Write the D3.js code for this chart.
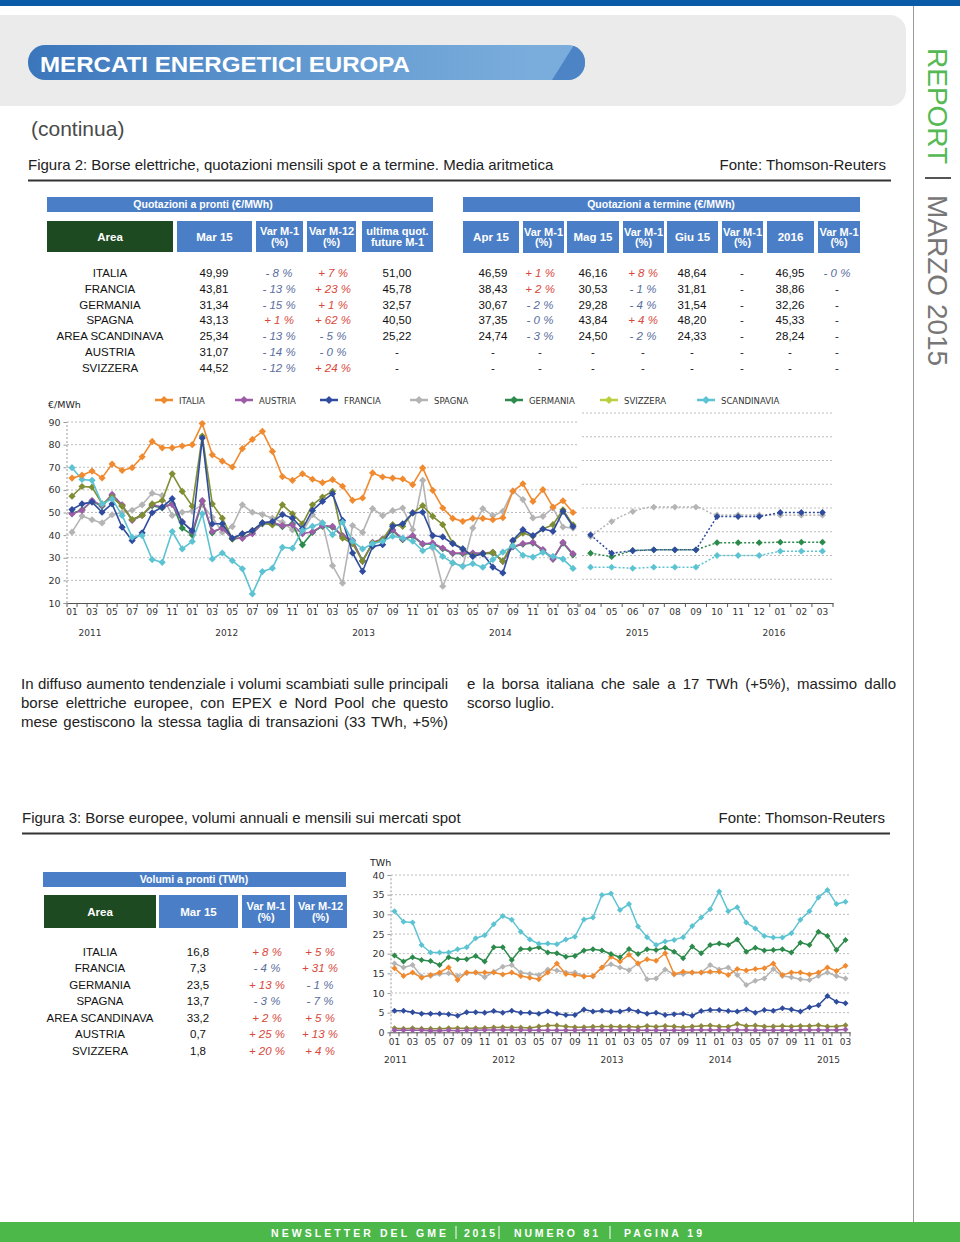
<!DOCTYPE html>
<html><head><meta charset="utf-8">
<script src="https://cdnjs.cloudflare.com/ajax/libs/d3/7.8.5/d3.min.js"></script>
<style>body{margin:0;background:#fff}svg{display:block}</style>
</head><body><svg id="page" width="960" height="1242"></svg>
<script>
// ---------------- DATA ----------------
const areas = ["ITALIA","FRANCIA","GERMANIA","SPAGNA","AREA SCANDINAVA","AUSTRIA","SVIZZERA"];
// Table: Quotazioni a pronti
const spotMar15 = ["49,99","43,81","31,34","43,13","25,34","31,07","44,52"];
const spotVarM1 = ["- 8 %","- 13 %","- 15 %","+ 1 %","- 13 %","- 14 %","- 12 %"];
const spotVarM12 = ["+ 7 %","+ 23 %","+ 1 %","+ 62 %","- 5 %","- 0 %","+ 24 %"];
const futureM1 = ["51,00","45,78","32,57","40,50","25,22","-","-"];
// Table: Quotazioni a termine
const fwdApr = ["46,59","38,43","30,67","37,35","24,74","-","-"];
const fwdAprVar = ["+ 1 %","+ 2 %","- 2 %","- 0 %","- 3 %","-","-"];
const fwdMag = ["46,16","30,53","29,28","43,84","24,50","-","-"];
const fwdMagVar = ["+ 8 %","- 1 %","- 4 %","+ 4 %","- 2 %","-","-"];
const fwdGiu = ["48,64","31,81","31,54","48,20","24,33","-","-"];
const fwdGiuVar = ["-","-","-","-","-","-","-"];
const fwd2016 = ["46,95","38,86","32,26","45,33","28,24","-","-"];
const fwd2016Var = ["- 0 %","-","-","-","-","-","-"];
// Table: Volumi a pronti
const volMar15 = ["16,8","7,3","23,5","13,7","33,2","0,7","1,8"];
const volVarM1 = ["+ 8 %","- 4 %","+ 13 %","- 3 %","+ 2 %","+ 25 %","+ 20 %"];
const volVarM12 = ["+ 5 %","+ 31 %","- 1 %","- 7 %","+ 5 %","+ 13 %","+ 4 %"];

// Chart 1 categories: monthly spot 2011-01..2015-03, forward 2015-04..2016-03
const fmtM = d3.timeFormat("%Y-%m");
const histMonths = d3.timeMonth.range(new Date(2011,0,1), new Date(2015,3,1)).map(fmtM);
const fwdMonths = d3.timeMonth.range(new Date(2015,3,1), new Date(2016,3,1)).map(fmtM);
const seriesNames = ["ITALIA","AUSTRIA","FRANCIA","SPAGNA","GERMANIA","SVIZZERA","SCANDINAVIA"];
const yearLabels1 = [2011,2012,2013,2014,2015,2016];
const yTicks1 = [10,20,30,40,50,60,70,80,90];
// €/MWh spot
const pItalia = [65.2,66.5,68.3,65.3,71.4,68.6,69.8,74.6,81.4,78.6,78.6,79.4,80.0,89.3,75.5,72.7,70.1,78.2,82.3,85.9,77.0,65.9,64.2,67.1,64.7,63.2,64.5,61.6,55.4,56.4,67.5,65.7,65.2,64.8,62.3,69.7,59.8,52.0,47.4,46.1,47.4,47.4,46.8,47.7,59.4,62.7,54.9,60.1,52.4,55.2,50.0];
const pAustria = [49.4,50.9,55.3,53.1,58.0,53.4,46.5,48.7,53.4,52.4,53.5,46.0,41.5,55.3,41.6,43.0,38.6,38.6,40.6,45.4,45.7,44.2,44.5,40.6,41.5,44.2,43.9,39.8,37.7,28.4,36.8,38.3,42.4,38.3,39.8,36.2,36.5,34.3,32.1,32.1,32.1,32.1,32.4,28.4,35.0,36.2,36.8,33.6,29.4,36.8,31.8];
const pFrancia = [51.3,53.8,54.6,50.1,53.8,43.5,37.6,41.0,49.9,52.4,56.1,45.7,42.0,82.9,45.0,45.0,38.6,40.6,42.0,45.4,46.0,49.1,47.5,42.8,50.9,54.9,58.3,46.5,32.1,24.0,35.0,35.8,43.9,45.0,49.8,50.1,39.8,39.2,36.2,33.9,30.6,31.8,25.9,23.3,37.7,42.4,39.8,42.7,41.7,50.5,43.8];
const pSpagna = [41.3,48.4,46.8,45.4,49.0,50.0,51.0,53.4,58.5,57.5,48.7,50.1,50.6,53.5,47.9,41.3,43.8,53.4,50.1,49.1,47.5,45.7,42.3,41.5,49.0,45.4,26.5,18.8,44.2,41.2,51.7,48.6,50.8,52.0,42.4,64.2,34.3,17.4,27.7,26.2,43.1,51.7,48.6,50.5,59.6,55.7,47.6,48.3,52.0,43.6,43.1];
const pGermania = [49.6,51.2,55.0,52.8,57.5,53.0,46.8,48.9,53.0,52.0,54.0,43.1,40.1,55.0,41.0,43.3,38.3,38.8,40.9,45.0,45.2,43.8,45.0,35.7,41.2,43.9,43.5,39.5,37.4,28.7,36.5,38.0,42.0,38.0,39.5,36.0,36.2,34.0,31.9,31.8,31.9,31.8,32.0,28.6,34.8,36.0,36.5,33.3,29.4,36.5,31.3];
const pSvizzera = [57.2,61.5,61.2,53.8,56.8,52.8,46.9,48.7,53.8,55.3,67.1,59.3,52.8,83.8,53.8,47.5,38.3,40.6,42.0,45.4,44.5,53.4,49.4,45.0,53.4,56.8,59.4,38.7,36.2,28.4,36.5,38.0,44.6,43.9,49.8,53.0,48.3,44.6,36.5,33.9,30.9,31.8,32.4,28.4,37.3,40.9,39.5,42.7,44.6,51.2,44.5];
const pScandinavia = [69.8,64.6,64.2,53.8,56.0,48.7,39.1,39.8,29.2,28.0,41.6,33.9,37.2,49.4,29.5,32.1,28.7,25.1,14.0,23.9,25.4,34.6,34.2,42.0,43.9,45.4,40.2,45.7,37.3,33.9,36.2,37.3,39.5,38.7,37.3,33.1,35.0,30.6,27.7,26.2,27.4,25.8,29.2,32.5,35.3,31.1,30.3,32.4,30.6,29.4,25.3];
// €/MWh forward
const fFrancia = [38.7,31.0,32.0,32.4,32.4,32.4,46.4,46.4,46.4,48.1,48.1,48.1];
const fSpagna = [38.0,44.3,48.5,50.4,50.4,50.4,47.1,47.1,47.1,47.0,47.0,47.0];
const fGermania = [31.0,29.5,32.1,32.4,32.4,32.4,35.4,35.4,35.4,35.6,35.6,35.6];
const fScandinavia = [25.1,25.1,24.6,25.1,25.1,25.1,30.0,30.0,30.0,31.8,31.8,31.8];

// Chart 2 (TWh) 2011-01..2015-03
const yearLabels2 = [2011,2012,2013,2014,2015];
const yTicks2 = [0,5,10,15,20,25,30,35,40];
const vScandinavia = [30.8,28.1,27.9,22.2,20.3,20.3,20.3,21.1,21.6,23.9,24.7,27.5,29.6,28.6,25.6,23.6,22.5,22.6,22.4,23.6,24.3,28.7,29.2,34.9,35.3,31.1,32.6,26.9,24.2,22.2,23.1,23.5,24.2,27.0,29.2,31.3,35.8,30.8,31.8,27.9,26.4,24.5,24.1,24.1,25.2,28.6,30.8,34.3,36.2,32.6,33.2];
const vGermania = [19.5,18.0,19.1,18.4,18.1,17.1,19.1,18.6,18.6,19.4,18.0,21.6,21.6,18.4,21.2,21.2,21.6,20.3,20.1,19.2,19.4,20.8,21.1,20.8,19.9,19.1,21.2,19.9,21.1,20.9,21.5,20.5,18.8,21.8,20.1,22.2,22.6,22.2,23.6,20.5,21.5,20.8,20.9,21.1,20.3,22.8,22.2,25.6,24.5,20.9,23.5];
const vItalia = [16.3,14.3,15.2,13.9,14.6,15.2,16.5,13.3,15.2,15.2,15.2,15.2,14.7,15.2,14.3,13.9,13.5,15.2,17.5,14.8,14.6,14.2,14.3,16.5,19.2,18.0,19.7,17.5,18.6,18.2,20.1,14.8,15.4,15.2,15.2,15.4,15.4,14.6,16.1,15.7,16.1,16.3,17.5,14.6,15.2,15.2,14.7,15.2,16.5,15.6,16.9];
const vSpagna = [17.5,16.5,17.1,14.2,14.3,14.8,15.0,14.3,15.0,15.2,14.0,15.4,16.7,17.1,15.2,14.8,14.6,16.0,15.7,15.2,15.2,14.3,14.2,16.5,17.3,16.5,15.8,17.5,13.5,13.7,16.0,14.7,14.8,15.2,15.2,17.1,16.0,16.5,14.6,12.0,13.1,13.7,16.1,14.3,14.0,13.5,13.3,14.3,15.2,14.3,13.7];
const vFrancia = [5.5,5.5,5.1,4.7,4.7,4.7,4.6,4.2,5.1,5.1,5.0,5.4,5.0,5.5,5.0,5.0,4.7,5.3,4.7,4.4,4.4,5.8,5.3,5.5,5.3,5.3,5.8,5.3,4.7,5.0,4.4,4.6,4.7,4.2,5.4,5.7,5.7,5.4,5.3,5.8,5.0,5.7,5.5,6.1,5.8,5.3,6.4,6.9,9.2,7.8,7.4];
const vSvizzera = [1.0,0.9,1.0,0.9,0.9,0.9,1.0,1.0,1.0,1.0,1.1,1.2,1.3,1.2,1.2,1.1,1.5,1.7,1.7,1.5,1.3,1.3,1.4,1.5,1.5,1.4,1.5,1.3,1.6,1.4,1.6,1.5,1.3,1.5,1.6,1.7,1.5,1.4,2.1,1.6,1.7,1.5,1.5,1.6,1.5,1.6,1.6,1.8,1.5,1.5,1.8];
const vAustria = [0.5,0.5,0.5,0.5,0.4,0.4,0.5,0.4,0.5,0.5,0.6,0.6,0.6,0.6,0.6,0.5,0.5,0.5,0.5,0.5,0.5,0.6,0.6,0.6,0.6,0.6,0.6,0.5,0.5,0.5,0.5,0.5,0.5,0.6,0.6,0.6,0.6,0.6,0.6,0.6,0.5,0.5,0.5,0.5,0.5,0.6,0.6,0.6,0.6,0.6,0.7];

// ---------------- STYLE ----------------
const colors = {ITALIA:"#F18A2F",AUSTRIA:"#9E5BA8",FRANCIA:"#2F4C9E",SPAGNA:"#B4B4B4",GERMANIA:"#2C8A4B",SVIZZERA:"#7F8E32",SCANDINAVIA:"#5CC3D3"};
const legendColors = Object.assign({}, colors, {SVIZZERA:"#BCCF3C"});
const SANS = "'Liberation Sans', Arial, sans-serif";
const DV = "'DejaVu Sans', Verdana, sans-serif";
const BLUE = "#4A7EC6", DKGREEN = "#1E4A22", NEG = "#5A6E9E", POS = "#D9473A";

const svg = d3.select("#page");
const defs = svg.append("defs");

// ---------------- PAGE FRAME ----------------
svg.append("rect").attr("x",0).attr("y",0).attr("width",960).attr("height",6).attr("fill","#0B5CA8");
svg.append("line").attr("x1",913.5).attr("x2",913.5).attr("y1",6).attr("y2",1222).attr("stroke","#9a9a9a").attr("stroke-width",1);
svg.append("rect").attr("x",-20).attr("y",15).attr("width",926).attr("height",91).attr("rx",16).attr("fill","#EBEBEB");

const pg = defs.append("linearGradient").attr("id","pill").attr("x1","0").attr("x2","1").attr("y1","0").attr("y2","0");
pg.append("stop").attr("offset","0%").attr("stop-color","#3B76BC");
pg.append("stop").attr("offset","45%").attr("stop-color","#5E96CE");
pg.append("stop").attr("offset","90%").attr("stop-color","#7AADDC");
pg.append("stop").attr("offset","100%").attr("stop-color","#7AADDC");
defs.append("clipPath").attr("id","pillclip").append("rect").attr("x",28).attr("y",45).attr("width",557).attr("height",35).attr("rx",17);
svg.append("rect").attr("x",28).attr("y",45).attr("width",557).attr("height",35).attr("rx",17).attr("fill","url(#pill)");
svg.append("path").attr("clip-path","url(#pillclip)").attr("d","M552,80 L574,45 L600,45 L600,80 Z").attr("fill","#4C84C6");
svg.append("text").attr("x",40).attr("y",72).attr("font-family",SANS).attr("font-weight","bold").attr("font-size",22)
  .attr("fill","#fff").attr("textLength",370).attr("lengthAdjust","spacingAndGlyphs").text("MERCATI ENERGETICI EUROPA");
svg.append("text").attr("x",31).attr("y",136).attr("font-family",SANS).attr("font-size",21).attr("fill","#4a4a4a").text("(continua)");

// sidebar
svg.append("text").attr("transform","translate(928,48) rotate(90)").attr("font-family",SANS).attr("font-size",28).attr("fill","#55B954").text("REPORT");
svg.append("line").attr("x1",925).attr("x2",951).attr("y1",178).attr("y2",178).attr("stroke","#555").attr("stroke-width",2);
svg.append("text").attr("transform","translate(928,195) rotate(90)").attr("font-family",SANS).attr("font-size",28).attr("fill","#777").text("MARZO 2015");

// footer
svg.append("rect").attr("x",0).attr("y",1222).attr("width",960).attr("height",20).attr("fill","#4CB84A");
const footSegs = [{t:"NEWSLETTER DEL GME",x:271,w:175},{t:"2015",x:464,w:31},{t:"NUMERO 81",x:514,w:84},{t:"PAGINA 19",x:624,w:78}];
footSegs.forEach(s=>svg.append("text").attr("x",s.x).attr("y",1237).attr("font-family",SANS).attr("font-weight","bold").attr("font-size",10.5)
  .attr("fill","#fff").attr("textLength",s.w).attr("lengthAdjust","spacing").text(s.t));
[456,499,610].forEach(x=>svg.append("line").attr("x1",x).attr("x2",x).attr("y1",1226).attr("y2",1239).attr("stroke","#fff").attr("stroke-width",1));

// captions
function caption(y, x0, x1, title) {
  svg.append("text").attr("x",x0).attr("y",y).attr("font-family",SANS).attr("font-size",15).attr("fill","#222").text(title);
  svg.append("text").attr("x",x1-5).attr("y",y).attr("text-anchor","end").attr("font-family",SANS).attr("font-size",15).attr("fill","#222").text("Fonte: Thomson-Reuters");
  svg.append("line").attr("x1",x0).attr("x2",x1).attr("y1",y+10.5).attr("y2",y+10.5).attr("stroke","#333").attr("stroke-width",2);
}
caption(170, 28, 891, "Figura 2: Borse elettriche, quotazioni mensili spot e a termine. Media aritmetica");
caption(823, 22, 890, "Figura 3: Borse europee, volumi annuali e mensili sui mercati spot");

// ---------------- TABLES ----------------
function headerBar(x, y, w, h, label, cx) {
  svg.append("rect").attr("x",x).attr("y",y).attr("width",w).attr("height",h).attr("fill",BLUE);
  svg.append("text").attr("x",cx).attr("y",y+h/2+3.8).attr("text-anchor","middle").attr("font-family",SANS)
    .attr("font-weight","bold").attr("font-size",10.5).attr("fill","#fff").text(label);
}
function headerCells(y, h, cells) {
  cells.forEach(c=>{
    svg.append("rect").attr("x",c.x).attr("y",y).attr("width",c.w).attr("height",h).attr("fill",c.fill||BLUE);
    const cy = y + h/2;
    if (c.label.length === 1) {
      svg.append("text").attr("x",c.x+c.w/2).attr("y",cy+4).attr("text-anchor","middle").attr("font-family",SANS)
        .attr("font-weight","bold").attr("font-size",11.5).attr("fill","#fff").text(c.label[0]);
    } else {
      c.label.forEach((l,i)=>svg.append("text").attr("x",c.x+c.w/2).attr("y",cy-1.5+i*10.5).attr("text-anchor","middle").attr("font-family",SANS)
        .attr("font-weight","bold").attr("font-size",11).attr("fill","#fff").text(l));
    }
  });
}
function cellColor(s){ if(/^\+/.test(s)) return POS; if(/^- \d/.test(s)) return NEG; return "#222"; }
function column(vals, cx, y0, dy, isVar) {
  vals.forEach((v,i)=>{
    const t = svg.append("text").attr("x",cx).attr("y",y0+i*dy+4).attr("text-anchor","middle").attr("font-family",SANS)
      .attr("font-size",11.5).attr("fill", isVar? cellColor(v) : "#111").text(v);
    if (isVar && v.length>1) t.attr("font-style","italic");
  });
}

// Table 1 left
headerBar(47,197,386,15,"Quotazioni a pronti (€/MWh)",203);
headerCells(221,31,[
  {x:47,w:126,label:["Area"],fill:DKGREEN},{x:177,w:75,label:["Mar 15"]},{x:256,w:47,label:["Var M-1","(%)"]},
  {x:307,w:49,label:["Var M-12","(%)"]},{x:362,w:71,label:["ultima quot.","future M-1"]}]);
column(areas,110,272.7,15.93,false);
column(spotMar15,214,272.7,15.93,false);
column(spotVarM1,279,272.7,15.93,true);
column(spotVarM12,333,272.7,15.93,true);
column(futureM1,397,272.7,15.93,false);
// Table 1 right
headerBar(463,197,397,15,"Quotazioni a termine (€/MWh)",661);
headerCells(221,32,[
  {x:463,w:56,label:["Apr 15"]},{x:523,w:41,label:["Var M-1","(%)"]},{x:567,w:52,label:["Mag 15"]},{x:623,w:41,label:["Var M-1","(%)"]},
  {x:667,w:51,label:["Giu 15"]},{x:722,w:41,label:["Var M-1","(%)"]},{x:767,w:47,label:["2016"]},{x:818,w:42,label:["Var M-1","(%)"]}]);
column(fwdApr,493,272.7,15.93,false);
column(fwdAprVar,540,272.7,15.93,true);
column(fwdMag,593,272.7,15.93,false);
column(fwdMagVar,643,272.7,15.93,true);
column(fwdGiu,692,272.7,15.93,false);
column(fwdGiuVar,742,272.7,15.93,true);
column(fwd2016,790,272.7,15.93,false);
column(fwd2016Var,837,272.7,15.93,true);
// Table 2
headerBar(43,872,303,15,"Volumi a pronti (TWh)",194);
headerCells(895,33,[
  {x:44,w:112,label:["Area"],fill:DKGREEN},{x:159,w:79,label:["Mar 15"]},{x:242,w:48,label:["Var M-1","(%)"]},{x:294,w:53,label:["Var M-12","(%)"]}]);
column(areas,100,951.7,16.5,false);
column(volMar15,198,951.7,16.5,false);
column(volVarM1,267,951.7,16.5,true);
column(volVarM12,320,951.7,16.5,true);

// ---------------- BODY TEXT ----------------
function justLine(x, y, w, str, justify) {
  const t = svg.append("text").attr("x",x).attr("y",y).attr("font-family",SANS).attr("font-size",15).attr("fill","#222").text(str);
  if (justify) {
    const nat = t.node().getComputedTextLength();
    const spaces = (str.match(/ /g)||[]).length;
    if (spaces) t.attr("word-spacing", (w-nat)/spaces);
  }
}
justLine(21,689,427,"In diffuso aumento tendenziale i volumi scambiati sulle principali",true);
justLine(21,708,427,"borse elettriche europee, con EPEX e Nord Pool che questo",true);
justLine(21,727,427,"mese gestiscono la stessa taglia di transazioni (33 TWh, +5%)",true);
justLine(467,689,429,"e la borsa italiana che sale a 17 TWh (+5%), massimo dallo",true);
justLine(467,708,429,"scorso luglio.",false);

// ---------------- HELPERS ----------------
const diamond = r => `M0,${-r}L${r},0L0,${r}L${-r},0Z`;
function drawSeries(g, keys, vals, x, y, color, o) {
  const cx = k => x(k) + x.bandwidth()/2;
  const line = d3.line().x((d,i)=>cx(keys[i])).y(d=>y(d)).curve(o.curve || d3.curveLinear);
  g.append("path").datum(vals).attr("d",line).attr("fill","none").attr("stroke",color)
    .attr("stroke-width",o.sw).attr("stroke-dasharray",o.dash||null).attr("stroke-linejoin","round");
  g.append("g").selectAll("path").data(vals).join("path").attr("d",diamond(o.r))
    .attr("transform",(d,i)=>`translate(${cx(keys[i])},${y(d)})`).attr("fill",color);
}
function bandTicks(g, x, y0, len) {
  const xs = x.domain().map(k=>x(k)).concat([x.range()[1]]);
  g.append("g").selectAll("line").data(xs).join("line").attr("x1",d=>d).attr("x2",d=>d).attr("y1",y0).attr("y2",y0+len)
    .attr("stroke","#555").attr("stroke-width",1);
}
function styleAxis(a, size) {
  a.selectAll("text").attr("font-family",DV).attr("font-size",size).attr("fill","#333");
}

// ---------------- CHART 1 ----------------
const c1 = svg.append("g");
const x1 = d3.scaleBand().domain(histMonths).range([67,578]);
const x1f = d3.scaleBand().domain(fwdMonths).range([580,833]);
const y1 = d3.scaleLinear().domain([10,90]).range([603,422]);
const y1f = d3.scaleLinear().domain([10,90]).range([603,413]);

// gridlines
c1.append("g").selectAll("line").data(yTicks1.slice(1)).join("line")
  .attr("x1",67).attr("x2",578).attr("y1",d=>y1(d)).attr("y2",d=>y1(d)).attr("stroke","#BDBDBD").attr("stroke-dasharray","2,2");
c1.append("g").selectAll("line").data(yTicks1.slice(1)).join("line")
  .attr("x1",582).attr("x2",833).attr("y1",d=>y1f(d)).attr("y2",d=>y1f(d)).attr("stroke","#BDBDBD").attr("stroke-dasharray","2,2");
// y axis
const ay1 = c1.append("g").attr("transform","translate(66.5,0)").call(d3.axisLeft(y1).tickValues(yTicks1).tickSize(3).tickPadding(3));
ay1.select(".domain").attr("stroke","#999").attr("stroke-dasharray","2,2");
ay1.selectAll(".tick line").attr("stroke","#999");
styleAxis(ay1, 9.5);
c1.append("text").attr("x",48).attr("y",408).attr("font-family",DV).attr("font-size",9.5).attr("fill","#222").text("€/MWh");
// x axes
const ax1 = c1.append("g").attr("transform","translate(0,603)").call(d3.axisBottom(x1).tickSize(0).tickPadding(6)
  .tickFormat(k => (+k.slice(5)) % 2 === 1 ? k.slice(5) : ""));
ax1.select(".domain").attr("stroke","#555");
styleAxis(ax1, 9);
bandTicks(c1, x1, 603, 4);
const ax1f = c1.append("g").attr("transform","translate(0,603)").call(d3.axisBottom(x1f).tickSize(0).tickPadding(6).tickFormat(k=>k.slice(5)));
ax1f.select(".domain").attr("stroke","#555");
styleAxis(ax1f, 9);
bandTicks(c1, x1f, 603, 4);
const yr1 = d3.scaleLinear().domain([2011,2016]).range([90,774]);
c1.append("g").selectAll("text").data(yearLabels1).join("text").attr("x",d=>yr1(d)).attr("y",636).attr("text-anchor","middle")
  .attr("font-family",DV).attr("font-size",9).attr("fill","#333").text(d=>d);

// historical series
const hist = {ITALIA:pItalia,AUSTRIA:pAustria,FRANCIA:pFrancia,SPAGNA:pSpagna,GERMANIA:pGermania,SVIZZERA:pSvizzera,SCANDINAVIA:pScandinavia};
["SPAGNA","GERMANIA","AUSTRIA","SVIZZERA","FRANCIA","SCANDINAVIA","ITALIA"].forEach(n=>
  drawSeries(c1, histMonths, hist[n], x1, y1, colors[n], {sw:1.6, r:3.6}));
// forward series
const fwd = {SPAGNA:fSpagna,SCANDINAVIA:fScandinavia,GERMANIA:fGermania,FRANCIA:fFrancia};
["SPAGNA","SCANDINAVIA","GERMANIA","FRANCIA"].forEach(n=>
  drawSeries(c1, fwdMonths, fwd[n], x1f, y1f, colors[n], {sw:1.5, r:3.4, dash:"2,2", curve: n==="SPAGNA"? d3.curveMonotoneX : d3.curveLinear}));

// legend
const legendX = [155,235,320,410,505,600,697];
const lg = c1.append("g");
seriesNames.forEach((n,i)=>{
  const x = legendX[i];
  lg.append("line").attr("x1",x).attr("x2",x+18).attr("y1",400).attr("y2",400).attr("stroke",legendColors[n]).attr("stroke-width",2.5);
  lg.append("path").attr("d",diamond(4)).attr("transform",`translate(${x+9},400)`).attr("fill",legendColors[n]);
  lg.append("text").attr("x",x+24).attr("y",403.5).attr("font-family",DV).attr("font-size",8.5).attr("fill","#333").text(n);
});

// ---------------- CHART 2 ----------------
const c2 = svg.append("g");
const x2 = d3.scaleBand().domain(histMonths).range([390,850]);
const y2 = d3.scaleLinear().domain([0,40]).range([1032.3,875]);
c2.append("g").selectAll("line").data(yTicks2.slice(1)).join("line")
  .attr("x1",391).attr("x2",850).attr("y1",d=>y2(d)).attr("y2",d=>y2(d)).attr("stroke","#BDBDBD").attr("stroke-dasharray","2,2");
const ay2 = c2.append("g").attr("transform","translate(390.5,0)").call(d3.axisLeft(y2).tickValues(yTicks2).tickSize(3).tickPadding(3));
ay2.select(".domain").attr("stroke","#999").attr("stroke-dasharray","2,2");
ay2.selectAll(".tick line").attr("stroke","#999");
styleAxis(ay2, 9.5);
c2.append("text").attr("x",370).attr("y",866).attr("font-family",DV).attr("font-size",9.5).attr("fill","#222").text("TWh");
const ax2 = c2.append("g").attr("transform","translate(0,1032.3)").call(d3.axisBottom(x2).tickSize(0).tickPadding(6)
  .tickFormat(k => (+k.slice(5)) % 2 === 1 ? k.slice(5) : ""));
ax2.select(".domain").attr("stroke","#555");
styleAxis(ax2, 9);
bandTicks(c2, x2, 1032.3, 4);
c2.append("g").selectAll("text").data(yearLabels2).join("text").attr("x",d=>x2(d+"-01")+x2.bandwidth()/2+1).attr("y",1063)
  .attr("text-anchor","middle").attr("font-family",DV).attr("font-size",9).attr("fill","#333").text(d=>d);
const vol = {SPAGNA:vSpagna,ITALIA:vItalia,GERMANIA:vGermania,SCANDINAVIA:vScandinavia,FRANCIA:vFrancia,SVIZZERA:vSvizzera,AUSTRIA:vAustria};
["SVIZZERA","AUSTRIA","FRANCIA","SPAGNA","ITALIA","GERMANIA","SCANDINAVIA"].forEach(n=>
  drawSeries(c2, histMonths, vol[n], x2, y2, n==="SVIZZERA"?"#8C8A3A":colors[n], {sw:1.5, r:3}));
</script>
</body></html>
